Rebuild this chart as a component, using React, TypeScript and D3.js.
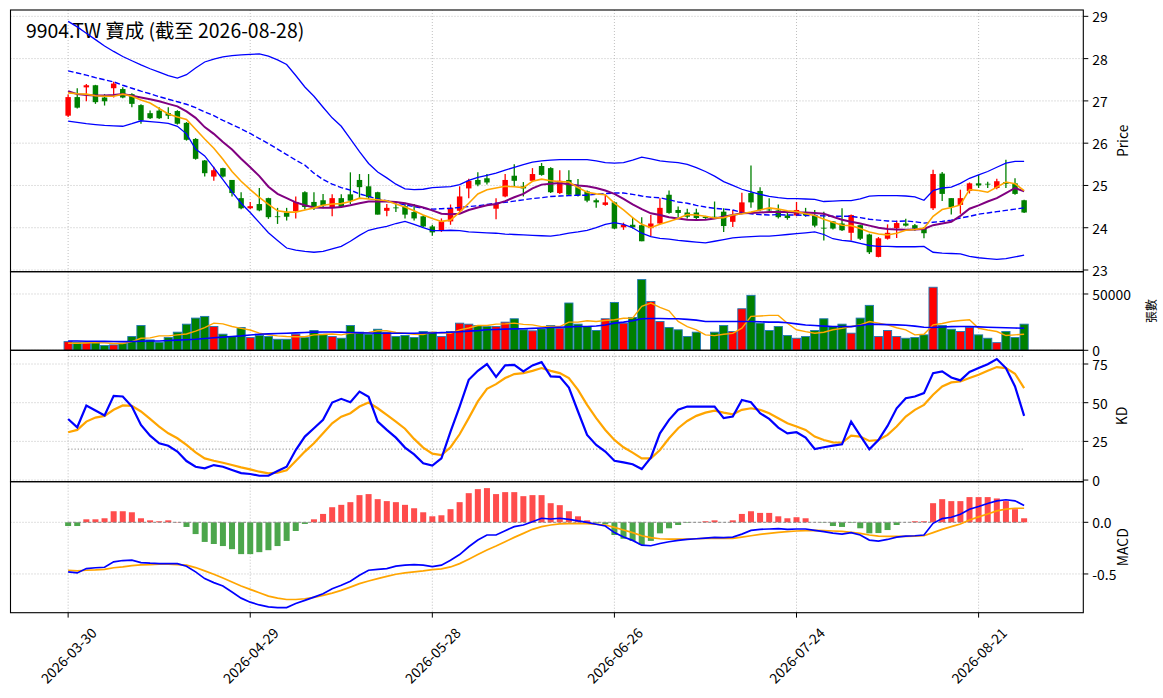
import React from 'react';
import * as d3 from 'd3';

// x axis: trading-day index of each labelled tick
const TICK_POS = [0, 20, 40, 60, 80, 100];
const TICK_LABELS = ['2026-03-30', '2026-04-29', '2026-05-28', '2026-06-26', '2026-07-24', '2026-08-21'];

const OPEN = [
  26.65, 27.09, 27.32, 27.37, 27.08, 27.30, 27.28, 27.16, 26.90, 26.71,
  26.77, 26.71, 26.76, 26.48, 26.10, 25.59, 25.21, 25.41, 25.13, 24.70,
  24.46, 24.56, 24.70, 24.27, 24.36, 24.39, 24.84, 24.61, 24.65, 24.49,
  24.70, 24.79, 25.13, 24.98, 24.84, 24.40, 24.48, 24.51, 24.37, 24.27,
  24.03, 23.93, 24.15, 24.40, 24.93, 25.13, 25.17, 24.45, 24.74, 25.23,
  24.98, 25.11, 25.46, 25.41, 24.82, 25.13, 24.96, 24.86, 24.65, 24.54,
  24.60, 24.01, 24.07, 24.06, 23.99, 24.10, 24.78, 24.42, 24.36, 24.36,
  24.26, 24.26, 24.38, 24.14, 24.34, 24.82, 24.87, 24.43, 24.41, 24.29,
  24.29, 24.34, 24.29, 24.00, 24.15, 24.10, 23.88, 24.06, 23.84, 23.31,
  23.74, 23.99, 24.10, 24.06, 23.98, 24.46, 25.28, 24.70, 24.54, 24.87,
  25.05, 25.04, 24.94, 25.08, 25.05, 24.65,
];
const HIGH = [
  27.15, 27.30, 27.40, 27.38, 27.16, 27.45, 27.32, 27.18, 26.92, 26.77,
  26.85, 26.85, 26.78, 26.50, 26.12, 25.60, 25.44, 25.42, 25.13, 24.84,
  24.61, 24.94, 24.71, 24.47, 24.47, 24.74, 24.86, 24.84, 24.80, 24.79,
  24.79, 25.31, 25.27, 25.27, 24.85, 24.56, 24.56, 24.59, 24.56, 24.29,
  24.07, 24.22, 24.55, 24.98, 25.16, 25.31, 25.27, 24.70, 25.27, 25.50,
  25.08, 25.41, 25.53, 25.43, 25.36, 25.36, 25.15, 24.88, 24.69, 24.78,
  24.62, 24.12, 24.25, 24.25, 24.30, 24.70, 24.88, 24.50, 24.45, 24.45,
  24.28, 24.62, 24.46, 24.42, 24.83, 25.47, 24.96, 24.70, 24.55, 24.35,
  24.61, 24.47, 24.42, 24.38, 24.16, 24.46, 24.31, 24.07, 23.86, 23.78,
  24.08, 24.17, 24.21, 24.09, 24.02, 25.37, 25.32, 24.70, 24.90, 25.07,
  25.25, 25.09, 25.16, 25.61, 25.17, 24.66,
];
const LOW = [
  26.62, 26.82, 26.99, 26.93, 26.89, 27.08, 27.06, 26.85, 26.46, 26.57,
  26.57, 26.57, 26.44, 26.06, 25.61, 25.21, 25.11, 25.19, 24.74, 24.44,
  24.44, 24.39, 24.21, 24.09, 24.17, 24.22, 24.43, 24.42, 24.46, 24.27,
  24.47, 24.56, 24.70, 24.68, 24.31, 24.27, 24.37, 24.22, 24.17, 24.01,
  23.81, 23.90, 24.07, 24.37, 24.70, 24.98, 25.02, 24.20, 24.72, 24.98,
  24.74, 25.09, 25.23, 24.82, 24.80, 24.76, 24.74, 24.60, 24.47, 24.52,
  23.97, 23.95, 23.98, 23.68, 23.79, 24.08, 24.33, 24.25, 24.22, 24.20,
  24.21, 24.21, 23.90, 24.02, 24.32, 24.47, 24.39, 24.39, 24.22, 24.19,
  24.27, 24.26, 24.01, 23.70, 23.96, 23.92, 23.70, 23.71, 23.38, 23.30,
  23.72, 23.76, 24.03, 23.93, 23.75, 24.42, 24.63, 24.31, 24.33, 24.81,
  24.94, 24.94, 24.91, 24.94, 24.78, 24.35,
];
const CLOSE = [
  27.09, 26.84, 27.37, 26.97, 26.99, 27.41, 27.08, 26.93, 26.54, 26.59,
  26.59, 26.65, 26.46, 26.08, 25.63, 25.29, 25.36, 25.21, 24.82, 24.46,
  24.51, 24.41, 24.25, 24.25, 24.26, 24.61, 24.49, 24.47, 24.53, 24.70,
  24.49, 24.64, 24.96, 24.72, 24.31, 24.47, 24.46, 24.31, 24.22, 24.03,
  23.89, 24.15, 24.47, 24.74, 25.11, 25.02, 25.07, 24.56, 25.13, 25.11,
  24.93, 25.27, 25.25, 24.84, 25.11, 24.78, 24.76, 24.64, 24.60, 24.60,
  23.98, 24.07, 24.01, 23.68, 24.10, 24.47, 24.35, 24.35, 24.26, 24.23,
  24.23, 24.24, 24.04, 24.30, 24.60, 24.60, 24.42, 24.41, 24.25, 24.23,
  24.42, 24.29, 24.05, 23.98, 23.98, 23.94, 24.30, 23.74, 23.42, 23.75,
  23.88, 24.11, 24.05, 23.98, 23.87, 25.27, 24.80, 24.49, 24.70, 25.05,
  25.00, 25.03, 25.10, 25.04, 24.80, 24.36,
];

const MA5 = [
  27.19, 27.17, 27.16, 27.12, 27.11, 27.11, 27.16, 27.11, 27.02, 26.95,
  26.82, 26.69, 26.62, 26.56, 26.33, 26.10, 25.88, 25.62, 25.33, 25.10,
  24.90, 24.72, 24.55, 24.40, 24.37, 24.37, 24.42, 24.47, 24.53, 24.56,
  24.57, 24.62, 24.70, 24.68, 24.66, 24.64, 24.56, 24.49, 24.40, 24.30,
  24.22, 24.15, 24.18, 24.37, 24.58, 24.80, 24.90, 24.94, 24.98, 24.97,
  24.95, 25.10, 25.15, 25.11, 25.09, 25.08, 24.95, 24.84, 24.80, 24.78,
  24.58, 24.42, 24.24, 24.08, 24.00, 24.08, 24.15, 24.22, 24.31, 24.30,
  24.27, 24.23, 24.24, 24.30, 24.33, 24.37, 24.42, 24.47, 24.44, 24.40,
  24.38, 24.33, 24.29, 24.20, 24.13, 24.06, 24.05, 23.98, 23.90, 23.85,
  23.83, 23.87, 23.94, 23.96, 23.99, 24.27, 24.43, 24.48, 24.54, 24.90,
  24.88, 24.84, 24.96, 25.08, 25.04, 24.88,
];
const MA10 = [
  27.23, 27.16, 27.14, 27.13, 27.13, 27.14, 27.16, 27.12, 27.08, 27.04,
  26.99, 26.93, 26.87, 26.75, 26.60, 26.38, 26.22, 26.03, 25.85, 25.63,
  25.43, 25.22, 24.97, 24.80, 24.70, 24.60, 24.53, 24.48, 24.47, 24.47,
  24.49, 24.53, 24.58, 24.62, 24.62, 24.62, 24.61, 24.58, 24.53, 24.48,
  24.41, 24.33, 24.32, 24.33, 24.42, 24.48, 24.53, 24.56, 24.63, 24.72,
  24.80, 24.93, 25.02, 25.04, 25.06, 25.03, 25.00, 24.98, 24.94, 24.88,
  24.80, 24.68, 24.55, 24.44, 24.34, 24.30, 24.25, 24.22, 24.19, 24.18,
  24.19, 24.22, 24.26, 24.30, 24.34, 24.35, 24.36, 24.37, 24.37, 24.37,
  24.36, 24.36, 24.35, 24.33, 24.26, 24.19, 24.14, 24.10, 24.05, 24.00,
  23.97, 23.96, 23.95, 23.96, 23.97, 24.06, 24.10, 24.14, 24.28, 24.45,
  24.53, 24.62, 24.70, 24.82, 24.94, 24.86,
];
const BB_MID = [
  27.71, 27.66, 27.61, 27.55, 27.50, 27.45, 27.37, 27.30, 27.23, 27.17,
  27.10, 27.04, 26.98, 26.92, 26.84, 26.74, 26.65, 26.54, 26.44, 26.34,
  26.23, 26.11, 25.99, 25.86, 25.73, 25.60, 25.48, 25.29, 25.14, 25.03,
  24.95, 24.89, 24.80, 24.74, 24.68, 24.64, 24.59, 24.54, 24.50, 24.46,
  24.44, 24.45, 24.46, 24.48, 24.50, 24.52, 24.55, 24.58, 24.60, 24.63,
  24.66, 24.69, 24.71, 24.74, 24.75, 24.76, 24.77, 24.77, 24.79, 24.81,
  24.82, 24.82, 24.79, 24.75, 24.72, 24.71, 24.66, 24.61, 24.58, 24.53,
  24.49, 24.46, 24.44, 24.42, 24.36, 24.33, 24.31, 24.30, 24.31, 24.30,
  24.30, 24.29, 24.29, 24.28, 24.27, 24.27, 24.27, 24.24, 24.20, 24.18,
  24.16, 24.15, 24.16, 24.14, 24.11, 24.13, 24.15, 24.18, 24.23, 24.27,
  24.32, 24.35, 24.38, 24.41, 24.44, 24.47,
];
const BB_UP = [
  28.88, 28.75, 28.60, 28.45, 28.30, 28.17, 28.05, 27.95, 27.85, 27.76,
  27.68, 27.60, 27.54, 27.62, 27.78, 27.92, 27.99, 28.04, 28.07, 28.09,
  28.10, 28.11, 28.06, 27.97, 27.86, 27.60, 27.33, 27.11, 26.85, 26.60,
  26.40, 26.10, 25.80, 25.52, 25.32, 25.18, 25.03, 24.92, 24.90, 24.91,
  24.95, 24.96, 24.97, 25.02, 25.12, 25.19, 25.24, 25.29, 25.36, 25.43,
  25.49, 25.55, 25.58, 25.60, 25.61, 25.61, 25.61, 25.61, 25.58, 25.54,
  25.53, 25.54, 25.60, 25.67, 25.63, 25.58, 25.56, 25.54, 25.50, 25.42,
  25.33, 25.22, 25.09, 25.00, 24.91, 24.85, 24.79, 24.74, 24.71, 24.69,
  24.69, 24.68, 24.67, 24.62, 24.63, 24.64, 24.64, 24.68, 24.75, 24.76,
  24.76, 24.76, 24.75, 24.73, 24.65, 24.88, 24.94, 24.96, 25.05, 25.17,
  25.25, 25.33, 25.43, 25.53, 25.57, 25.57,
];
const BB_LO = [
  26.52, 26.49, 26.46, 26.44, 26.42, 26.41, 26.40, 26.46, 26.53, 26.51,
  26.49, 26.47, 26.40, 26.22, 25.86, 25.70, 25.42, 25.14, 24.85, 24.58,
  24.36, 24.12, 23.88, 23.70, 23.52, 23.47, 23.44, 23.42, 23.44, 23.50,
  23.56, 23.68, 23.82, 23.94, 23.99, 24.03, 24.10, 24.15, 24.08, 24.00,
  23.93, 23.93, 23.94, 23.93, 23.90, 23.89, 23.88, 23.87, 23.85, 23.84,
  23.83, 23.82, 23.81, 23.80, 23.83, 23.87, 23.90, 23.94, 24.00, 24.08,
  24.12, 24.08, 24.00, 23.87, 23.79, 23.75, 23.73, 23.70, 23.68, 23.66,
  23.64, 23.68, 23.72, 23.76, 23.78, 23.79, 23.80, 23.80, 23.82, 23.84,
  23.86, 23.88, 23.90, 23.84, 23.74, 23.70, 23.68, 23.63, 23.58, 23.56,
  23.56, 23.55, 23.55, 23.55, 23.56, 23.42, 23.40, 23.39, 23.38, 23.32,
  23.29, 23.27, 23.25, 23.27, 23.31, 23.35,
];

const VOLUME = [
  7700, 7100, 6800, 7100, 4200, 4800, 6200, 12200, 22000, 9200,
  7100, 11300, 16100, 23200, 28600, 30100, 21100, 14300, 12200, 20200,
  11300, 13100, 12200, 9800, 9800, 14300, 11300, 17600, 14300, 12200,
  10700, 22000, 16100, 14300, 18700, 16100, 12200, 13100, 11300, 16700,
  16100, 12200, 16700, 24100, 23200, 22000, 21100, 21100, 25000, 28000,
  18200, 17300, 19000, 22000, 19600, 42000, 23200, 21100, 17600, 28000,
  42500, 24100, 29200, 62800, 43400, 25600, 20200, 18200, 12200, 16100,
  0, 16100, 22000, 16700, 36900, 48800, 24100, 17600, 21100, 13100,
  10700, 12200, 17600, 28000, 21100, 23200, 15200, 28600, 39900, 12200,
  17600, 12200, 10700, 11300, 13700, 56000, 22000, 18700, 16700, 20200,
  13700, 10700, 6800, 16700, 11300, 23200,
];
const VOL_MA5 = [
  6200, 6300, 6500, 6800, 6600, 6000, 6000, 7700, 10700, 11000,
  12800, 12800, 13700, 14500, 17000, 20200, 24100, 23500, 21100, 19500,
  18000, 15200, 13800, 12800, 12200, 12000, 12000, 13700, 14000, 14500,
  13700, 15200, 15500, 15800, 17300, 17300, 15800, 15200, 14300, 14000,
  16100, 15500, 15200, 18200, 19800, 22000, 22000, 23200, 23500, 24100,
  23000, 22600, 21000, 21100, 21100, 25000, 25000, 26200, 25600, 26500,
  27100, 28500, 28600, 39000, 42000, 38100, 35100, 25600, 21000, 18200,
  13700, 13000, 14300, 15000, 19600, 30100, 30500, 31000, 31000, 24000,
  18200, 16600, 15200, 16000, 18200, 19500, 21100, 22500, 25600, 24100,
  22600, 20000, 18200, 13700, 14300, 22600, 23800, 25600, 26500, 27100,
  19600, 18000, 16700, 13100, 13700, 14300,
];
const VOL_MA20 = [
  8300, 8200, 8100, 8000, 7900, 7800, 7700, 7800, 8000, 8200,
  8300, 8700, 9000, 9400, 9800, 10500, 11200, 11700, 12200, 12800,
  13600, 14300, 14600, 14900, 15200, 15500, 15800, 16100, 16300, 16200,
  16100, 15800, 15500, 15300, 15200, 15200, 15200, 15200, 15200, 15300,
  15400, 15700, 16000, 16500, 17000, 17500, 18200, 18500, 18800, 19000,
  19200, 19500, 19800, 20200, 20500, 20800, 21100, 21100, 21600, 22500,
  24100, 25000, 26200, 28000, 28300, 28200, 28000, 28000, 27500, 26800,
  25600, 25600, 25600, 25600, 25600, 25600, 25300, 25000, 25000, 24500,
  23500, 22500, 22000, 21500, 21100, 21100, 21000, 22000, 23200, 23000,
  22800, 22600, 22200, 21500, 20500, 20200, 20700, 21000, 21100, 21100,
  20800, 20500, 20200, 20000, 19800, 19600,
];

const K = [
  39.5, 34.1, 48.2, 44.9, 41.7, 54.4, 54.0, 47.5, 35.6, 28.7,
  23.8, 22.2, 18.4, 12.3, 8.6, 7.6, 9.7, 8.6, 6.5, 4.5,
  3.9, 2.8, 2.8, 5.8, 8.6, 19.4, 28.1, 33.5, 38.9, 50.1,
  52.5, 50.3, 57.2, 53.8, 37.8, 32.4, 27.4, 21.0, 16.6, 10.8,
  9.3, 14.0, 31.3, 47.5, 64.8, 70.6, 74.9, 66.7, 74.1, 74.5,
  70.2, 74.1, 76.2, 67.0, 66.7, 59.8, 44.3, 29.2, 22.7, 18.4,
  12.5, 11.4, 10.2, 7.1, 14.5, 30.2, 38.9, 45.4, 47.5, 47.5,
  47.5, 47.5, 40.0, 41.0, 51.8, 50.3, 43.2, 39.5, 33.9, 30.2,
  30.9, 27.4, 20.1, 21.2, 22.2, 23.1, 37.8, 28.7, 19.9, 25.9,
  35.0, 46.4, 52.9, 54.0, 56.2, 69.1, 70.2, 66.3, 64.4, 69.8,
  72.4, 74.9, 78.2, 72.4, 60.5, 41.5,
];
const D = [
  30.9, 32.4, 37.8, 40.4, 41.5, 45.4, 48.2, 48.0, 44.3, 39.5,
  34.6, 30.2, 27.0, 22.7, 17.9, 14.0, 12.5, 11.2, 9.7, 8.2,
  6.9, 5.4, 4.3, 4.8, 6.3, 12.3, 18.4, 23.8, 30.2, 36.7,
  41.0, 43.2, 47.5, 50.1, 46.4, 42.1, 37.8, 33.2, 26.6, 21.0,
  17.1, 16.2, 21.2, 29.6, 40.0, 50.8, 59.0, 62.0, 65.9, 68.5,
  69.1, 70.6, 72.4, 70.6, 69.1, 65.9, 58.3, 48.6, 40.0, 32.4,
  25.9, 21.2, 17.7, 14.0, 14.0, 19.4, 27.0, 33.5, 38.2, 41.5,
  43.6, 44.9, 43.6, 42.5, 45.4, 46.4, 45.4, 43.2, 40.0, 36.7,
  34.6, 32.4, 28.1, 25.9, 24.4, 24.2, 28.7, 28.1, 25.3, 25.9,
  29.2, 34.6, 41.0, 45.4, 48.6, 55.1, 60.5, 63.1, 63.7, 65.9,
  68.0, 70.6, 73.0, 72.4, 68.7, 59.4,
];

const DIF = [
  -0.480, -0.490, -0.448, -0.440, -0.435, -0.383, -0.370, -0.367, -0.390, -0.396,
  -0.400, -0.400, -0.400, -0.425, -0.480, -0.545, -0.584, -0.617, -0.675, -0.734,
  -0.773, -0.800, -0.818, -0.825, -0.825, -0.786, -0.756, -0.724, -0.692, -0.643,
  -0.610, -0.571, -0.513, -0.464, -0.455, -0.448, -0.425, -0.415, -0.410, -0.415,
  -0.429, -0.415, -0.367, -0.312, -0.237, -0.172, -0.123, -0.123, -0.081, -0.042,
  -0.026, 0.006, 0.039, 0.032, 0.039, 0.029, 0.013, 0.000, -0.019, -0.036,
  -0.100, -0.143, -0.175, -0.221, -0.227, -0.205, -0.188, -0.175, -0.166, -0.159,
  -0.153, -0.146, -0.149, -0.143, -0.114, -0.078, -0.068, -0.065, -0.062, -0.068,
  -0.065, -0.065, -0.078, -0.091, -0.104, -0.114, -0.100, -0.123, -0.172, -0.182,
  -0.166, -0.143, -0.133, -0.130, -0.123, -0.010, 0.036, 0.049, 0.078, 0.127,
  0.153, 0.182, 0.208, 0.218, 0.208, 0.162,
];
const DEA = [
  -0.464, -0.470, -0.464, -0.461, -0.455, -0.440, -0.432, -0.419, -0.412, -0.410,
  -0.406, -0.406, -0.410, -0.415, -0.438, -0.470, -0.503, -0.539, -0.578, -0.617,
  -0.649, -0.682, -0.714, -0.734, -0.747, -0.747, -0.740, -0.727, -0.708, -0.685,
  -0.659, -0.627, -0.594, -0.568, -0.545, -0.523, -0.503, -0.490, -0.480, -0.470,
  -0.458, -0.451, -0.432, -0.400, -0.357, -0.312, -0.269, -0.230, -0.188, -0.146,
  -0.107, -0.068, -0.042, -0.026, -0.016, -0.013, -0.013, -0.013, -0.019, -0.026,
  -0.049, -0.075, -0.100, -0.130, -0.149, -0.159, -0.162, -0.162, -0.162, -0.159,
  -0.156, -0.156, -0.156, -0.156, -0.143, -0.130, -0.117, -0.107, -0.097, -0.091,
  -0.084, -0.081, -0.078, -0.081, -0.084, -0.088, -0.097, -0.107, -0.123, -0.133,
  -0.136, -0.136, -0.136, -0.133, -0.130, -0.100, -0.068, -0.042, -0.016, 0.023,
  0.052, 0.081, 0.110, 0.127, 0.136, 0.136,
];
const HIST = [
  -0.036, -0.036, 0.029, 0.029, 0.039, 0.107, 0.107, 0.097, 0.039, 0.019,
  0.010, 0.019, 0.003, -0.045, -0.114, -0.190, -0.210, -0.230, -0.260, -0.308,
  -0.308, -0.289, -0.270, -0.230, -0.180, -0.084, -0.016, 0.029, 0.081, 0.146,
  0.169, 0.195, 0.263, 0.273, 0.224, 0.205, 0.195, 0.169, 0.136, 0.097,
  0.058, 0.068, 0.127, 0.195, 0.282, 0.321, 0.331, 0.273, 0.292, 0.292,
  0.253, 0.263, 0.263, 0.185, 0.166, 0.107, 0.058, 0.019, -0.010, -0.019,
  -0.123, -0.159, -0.180, -0.218, -0.180, -0.107, -0.058, -0.026, -0.005, 0.000,
  0.010, 0.019, 0.000, 0.019, 0.081, 0.107, 0.091, 0.091, 0.058, 0.039,
  0.049, 0.039, 0.000, -0.003, -0.036, -0.045, -0.005, -0.058, -0.107, -0.104,
  -0.075, -0.026, 0.000, 0.010, 0.010, 0.185, 0.224, 0.205, 0.205, 0.244,
  0.244, 0.244, 0.231, 0.205, 0.127, 0.039,
];

const FONT = '"Noto Sans CJK TC", "Noto Sans CJK SC", "Noto Sans", sans-serif';
const GRID = '#b0b0b0';
const UP = '#ff0000';
const DOWN = '#008000';
const LEFT = 10.5;
const RIGHT = 1083.3;

export default function App() {
  const N = CLOSE.length;
  const idx = d3.range(N);
  const x = d3.scaleLinear().domain([-6.33, 111.5]).range([LEFT, RIGHT]);
  const step = x(1) - x(0);

  const yP = d3.scaleLinear().domain([22.96, 29.15]).range([271.7, 10]);
  const yV = d3.scaleLinear().domain([0, 69800]).range([350.3, 271.7]);
  const yK = d3.scaleLinear().domain([-1.06, 83.86]).range([481.7, 350.3]);
  const yM = d3.scaleLinear().domain([-0.875, 0.393]).range([612.7, 481.7]);

  const path = (vals: number[], y: d3.ScaleLinear<number, number>) =>
    d3.line<number>().x((_, i) => x(i)).y(d => y(d))(vals) || '';

  const panels = [
    { y: yP, ticks: [23, 24, 25, 26, 27, 28, 29], fmt: (v: number) => String(v), label: 'Price', lx: 1122, ls: 13.9 },
    { y: yV, ticks: [0, 50000], fmt: (v: number) => String(v), label: '張數', lx: 1150, ls: 12 },
    { y: yK, ticks: [0, 25, 50, 75], fmt: (v: number) => String(v), label: 'KD', lx: 1121, ls: 13.9 },
    { y: yM, ticks: [-0.5, 0], fmt: (v: number) => v.toFixed(1), label: 'MACD', lx: 1122, ls: 13.9 },
  ];

  return (
    <svg width={1163} height={698} style={{ position: 'absolute', left: 0, top: 0, background: '#fff' }}
      fontFamily={FONT}>
      <rect width={1163} height={698} fill="#fff" />

      {/* grids */}
      {panels.map((p, k) => {
        const [y0, y1] = p.y.range();
        return (
          <g key={'grid' + k}>
            {TICK_POS.map(t => (
              <line key={t} x1={x(t)} x2={x(t)} y1={y1} y2={y0} stroke={GRID} strokeWidth={0.8} strokeDasharray="1 2" />
            ))}
            {p.ticks.map(t => (
              <line key={'h' + t} x1={LEFT} x2={RIGHT} y1={p.y(t)} y2={p.y(t)} stroke={GRID} strokeWidth={0.8} strokeDasharray="1 2" />
            ))}
          </g>
        );
      })}

      {/* title */}
      <text x={26} y={38} fontSize={19.4} fill="#000">9904.TW 寶成 (截至 2026-08-28)</text>

      {/* price: candles */}
      {idx.map(i => {
        const c = CLOSE[i] >= OPEN[i] ? UP : DOWN;
        const top = yP(Math.max(OPEN[i], CLOSE[i]));
        const bot = yP(Math.min(OPEN[i], CLOSE[i]));
        return (
          <g key={'c' + i}>
            <line x1={x(i)} x2={x(i)} y1={yP(HIGH[i])} y2={yP(LOW[i])} stroke={c} strokeWidth={1.3} />
            <rect x={x(i) - step * 0.3} width={step * 0.6} y={top} height={Math.max(bot - top, 0.8)} fill={c} />
          </g>
        );
      })}
      <path d={path(BB_UP, yP)} fill="none" stroke="#0000ff" strokeWidth={1.3} />
      <path d={path(BB_LO, yP)} fill="none" stroke="#0000ff" strokeWidth={1.3} />
      <path d={path(BB_MID, yP)} fill="none" stroke="#0000ff" strokeWidth={1.4} strokeDasharray="5.5 2.5" />
      <path d={path(MA10, yP)} fill="none" stroke="#800080" strokeWidth={2} />
      <path d={path(MA5, yP)} fill="none" stroke="#ffa500" strokeWidth={1.6} />

      {/* volume */}
      {idx.map(i => (
        VOLUME[i] > 0 ? (
          <rect key={'v' + i} x={x(i) - step * 0.45} width={step * 0.9} y={yV(VOLUME[i])}
            height={yV(0) - yV(VOLUME[i])} fill={CLOSE[i] >= OPEN[i] ? UP : DOWN}
            stroke="#1f77b4" strokeWidth={0.9} />
        ) : null
      ))}
      <path d={path(VOL_MA5, yV)} fill="none" stroke="#ffa500" strokeWidth={1.4} />
      <path d={path(VOL_MA20, yV)} fill="none" stroke="#0000ff" strokeWidth={1.6} />

      {/* KD */}
      {[20, 80].map(v => (
        <line key={'kd' + v} x1={x(0)} x2={x(N - 1)} y1={yK(v)} y2={yK(v)} stroke="#888" strokeWidth={1} strokeDasharray="1.2 2" />
      ))}
      <path d={path(D, yK)} fill="none" stroke="#ffa500" strokeWidth={2.2} />
      <path d={path(K, yK)} fill="none" stroke="#0000ff" strokeWidth={2.2} />

      {/* MACD */}
      {idx.map(i => {
        const v = HIST[i];
        const y0 = yM(0);
        const y1 = yM(v);
        return (
          <rect key={'h' + i} x={x(i) - step * 0.33} width={step * 0.66} y={Math.min(y0, y1)}
            height={Math.abs(y1 - y0)} fill={v >= 0 ? '#ff4c4c' : '#4ca64c'} />
        );
      })}
      <line x1={x(0)} x2={x(N - 1)} y1={yM(0)} y2={yM(0)} stroke="#888" strokeWidth={1} strokeDasharray="3 2" />
      <path d={path(DEA, yM)} fill="none" stroke="#ffa500" strokeWidth={1.7} />
      <path d={path(DIF, yM)} fill="none" stroke="#0000ff" strokeWidth={1.7} />

      {/* frames, right axes and labels */}
      {panels.map((p, k) => {
        const [y0, y1] = p.y.range();
        return (
          <g key={'ax' + k}>
            <rect x={LEFT} y={y1} width={RIGHT - LEFT} height={y0 - y1} fill="none" stroke="#000" strokeWidth={1.1} />
            {p.ticks.map(t => (
              <g key={t}>
                <line x1={RIGHT} x2={RIGHT + 5} y1={p.y(t)} y2={p.y(t)} stroke="#000" strokeWidth={1} />
                <text x={RIGHT + 9} y={p.y(t)} fontSize={13.9} dominantBaseline="central" fill="#000">{p.fmt(t)}</text>
              </g>
            ))}
            <text transform={`translate(${p.lx},${(y0 + y1) / 2}) rotate(-90)`} textAnchor="middle"
              dominantBaseline="central" fontSize={p.ls} fill="#000">{p.label}</text>
          </g>
        );
      })}

      {/* x axis */}
      {TICK_POS.map((t, k) => (
        <g key={'xt' + t}>
          <line x1={x(t)} x2={x(t)} y1={612.7} y2={617.6} stroke="#000" strokeWidth={1} />
          <text transform={`translate(${x(t)},655) rotate(-45)`} textAnchor="middle" dominantBaseline="central"
            fontSize={13.9} fill="#000">{TICK_LABELS[k]}</text>
        </g>
      ))}
    </svg>
  );
}
